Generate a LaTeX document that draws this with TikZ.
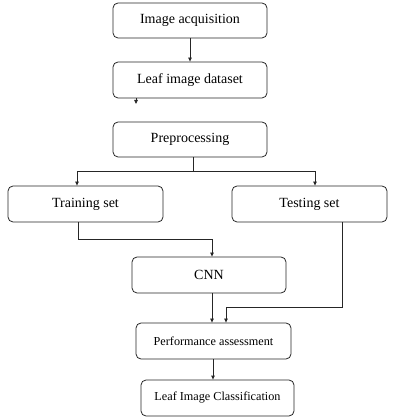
\documentclass[tikz,border=0pt]{standalone}
\usepackage{fontspec}
\setmainfont{Liberation Serif}
\usetikzlibrary{arrows.meta}
\begin{document}
\begin{tikzpicture}[x=1pt,y=-1pt,
  box/.style={draw=black!85,line width=0.8pt,rounded corners=5pt,inner sep=0pt,font=\fontsize{14}{16}\selectfont},
  smallbox/.style={box,font=\fontsize{12.2}{14}\selectfont},
  conn/.style={draw=black!85,line width=0.8pt},
  arr/.style={conn,-{Triangle[length=4pt,width=3.5pt]}}]
\useasboundingbox (0,0) rectangle (420,419);
\node[box,minimum width=154pt,minimum height=35pt] (acq) at (190,20.5) {Image acquisition};
\node[box,minimum width=154pt,minimum height=36pt] (data) at (190,80) {Leaf image dataset};
\node[box,minimum width=154pt,minimum height=35pt] (pre) at (190,139.5) {Preprocessing};
\node[box,minimum width=155pt,minimum height=36pt] (train) at (85.5,204) {Training set};
\node[box,minimum width=155pt,minimum height=36pt] (test) at (309.5,204) {Testing set};
\node[box,minimum width=154pt,minimum height=36pt] (cnn) at (209,275) {CNN};
\node[smallbox,minimum width=155pt,minimum height=36pt] (perf) at (213.5,341) {Performance assessment};
\node[smallbox,minimum width=153pt,minimum height=36pt] (cls) at (217.5,398) {Leaf Image Classification};
\coordinate (stub) at (136,104);
\draw[arr] (acq.south) -- (data.north);
\draw[arr] (data.south -| stub) -- (stub);
\draw[conn] (pre.south -| 193,0) -- (193,171);
\draw[arr] (193,171) -| (train.north -| 77,0);
\draw[arr] (193,171) -| (test.north -| 315,0);
\draw[arr] (train.south -| 78,0) |- (212,239) -- (cnn.north -| 212,0);
\draw[arr] (cnn.south -| 212,0) -- (perf.north -| 212,0);
\draw[arr] (test.south -| 342,0) |- (226,307) -- (perf.north -| 226,0);
\draw[arr] (perf.south -| 213,0) -- (cls.north -| 213,0);
\end{tikzpicture}
\end{document}
